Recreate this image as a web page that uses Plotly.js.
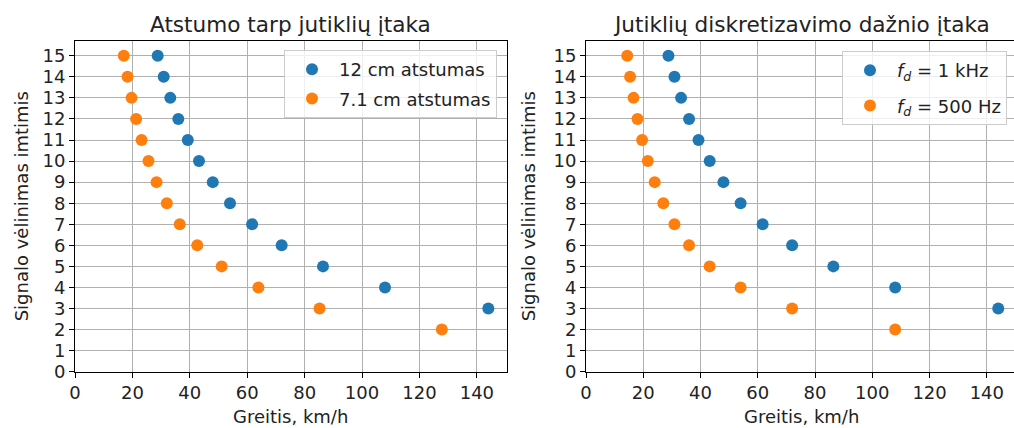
<!DOCTYPE html>
<html>
<head>
<meta charset="utf-8">
<script src="https://cdn.plot.ly/plotly-3.0.1.min.js"></script>
<style>
  html, body { margin: 0; padding: 0; background: #fff; }
  #chart { width: 1014px; height: 428px; }
</style>
</head>
<body>
<div id="chart"></div>
<script>
// ---- Data ----
// Left panel: Atstumo tarp jutiklių įtaka
const delay12 = [3, 4, 5, 6, 7, 8, 9, 10, 11, 12, 13, 14, 15];
const speed12 = [144, 108, 86.4, 72, 61.7, 54, 48, 43.2, 39.3, 36, 33.2, 30.9, 28.8];
const delay71 = [2, 3, 4, 5, 6, 7, 8, 9, 10, 11, 12, 13, 14, 15];
const speed71 = [127.8, 85.2, 63.9, 51.1, 42.6, 36.5, 32.0, 28.4, 25.6, 23.2, 21.3, 19.7, 18.3, 17.0];
// Right panel: Jutiklių diskretizavimo dažnio įtaka
const delay1k = [3, 4, 5, 6, 7, 8, 9, 10, 11, 12, 13, 14, 15];
const speed1k = [144, 108, 86.4, 72, 61.7, 54, 48, 43.2, 39.3, 36, 33.2, 30.9, 28.8];
const delay500 = [2, 3, 4, 5, 6, 7, 8, 9, 10, 11, 12, 13, 14, 15];
const speed500 = [108, 72, 54, 43.2, 36, 30.9, 27, 24, 21.6, 19.6, 18, 16.6, 15.4, 14.4];

const legendNames = ['12 cm atstumas', '7.1 cm atstumas',
  '<i>f</i><sub><i>d</i></sub> = 1 kHz', '<i>f</i><sub><i>d</i></sub> = 500 Hz'];
const xTickVals = [0, 20, 40, 60, 80, 100, 120, 140];
const yTickVals = [0, 1, 2, 3, 4, 5, 6, 7, 8, 9, 10, 11, 12, 13, 14, 15];

const titles = ['Atstumo tarp jutiklių įtaka', 'Jutiklių diskretizavimo dažnio įtaka'];
const xLabel = 'Greitis, km/h';
const yLabel = 'Signalo vėlinimas imtimis';

// ---- Styling ----
const BLUE = '#1f77b4', ORANGE = '#ff7f0e';
const FONT = 'DejaVu Sans, sans-serif';
const FS = 18, TFS = 21.6;
const W = 1014, H = 428;
const px = v => v / W;
const py = v => (H - v) / H;

const plotTop = 41, plotBottom = 371.7;
const L1 = 75, R1 = 506.7, L2 = 586, R2 = 1014;

const mk = (color) => ({ color: color, size: 12, line: { width: 0 } });

const traces = [
  { x: speed12, y: delay12, name: legendNames[0], type: 'scatter', mode: 'markers',
    marker: mk(BLUE), xaxis: 'x', yaxis: 'y', legend: 'legend', legendgroup: 'a' },
  { x: speed71, y: delay71, name: legendNames[1], type: 'scatter', mode: 'markers',
    marker: mk(ORANGE), xaxis: 'x', yaxis: 'y', legend: 'legend', legendgroup: 'b' },
  { x: speed1k, y: delay1k, name: legendNames[2], type: 'scatter', mode: 'markers',
    marker: mk(BLUE), xaxis: 'x2', yaxis: 'y2', legend: 'legend2', legendgroup: 'c' },
  { x: speed500, y: delay500, name: legendNames[3], type: 'scatter', mode: 'markers',
    marker: mk(ORANGE), xaxis: 'x2', yaxis: 'y2', legend: 'legend2', legendgroup: 'd' }
];

const axisCommon = {
  showline: true, linecolor: '#000', linewidth: 1,
  ticks: 'outside', ticklen: 5, tickwidth: 1, tickcolor: '#000',
  showgrid: true, gridcolor: '#b0b0b0', gridwidth: 1,
  zeroline: false, fixedrange: true,
  tickfont: { family: FONT, size: FS, color: '#222' }
};

const yDomain = [py(plotBottom), py(plotTop)];

const legendCommon = {
  bgcolor: 'rgba(255,255,255,0.8)', bordercolor: '#cccccc', borderwidth: 1,
  font: { family: FONT, size: FS, color: '#222' },
  traceorder: 'grouped', itemsizing: 'trace', itemwidth: 44
};

const layout = {
  width: W, height: H,
  margin: { l: 0, r: 0, t: 0, b: 0, pad: 0 },
  paper_bgcolor: '#fff', plot_bgcolor: '#fff',
  font: { family: FONT, size: FS, color: '#222' },
  showlegend: true,
  xaxis: Object.assign({}, axisCommon, { domain: [px(L1), px(R1)], range: [0, 150.4],
    tickmode: 'array', tickvals: xTickVals, anchor: 'y', mirror: true }),
  yaxis: Object.assign({}, axisCommon, { domain: yDomain, range: [0, 15.7],
    tickmode: 'array', tickvals: yTickVals, anchor: 'x', mirror: true }),
  xaxis2: Object.assign({}, axisCommon, { domain: [px(L2), px(R2)], range: [0, 149.5],
    tickmode: 'array', tickvals: xTickVals, anchor: 'y2', mirror: true }),
  yaxis2: Object.assign({}, axisCommon, { domain: yDomain, range: [0, 15.7],
    tickmode: 'array', tickvals: yTickVals, anchor: 'x2', mirror: false }),
  legend: Object.assign({}, legendCommon, {
    x: px(497), xanchor: 'right', y: py(50), yanchor: 'top', tracegroupgap: 3 }),
  legend2: Object.assign({}, legendCommon, {
    x: px(1007), xanchor: 'right', y: py(51), yanchor: 'top', tracegroupgap: 9 }),
  annotations: [
    { text: titles[0], x: px((L1 + R1) / 2), y: py(24), xref: 'paper', yref: 'paper',
      xanchor: 'center', yanchor: 'middle', showarrow: false,
      font: { family: FONT, size: TFS, color: '#222' } },
    { text: titles[1], x: px((L2 + 1016.7) / 2), y: py(24), xref: 'paper', yref: 'paper',
      xanchor: 'center', yanchor: 'middle', showarrow: false,
      font: { family: FONT, size: TFS, color: '#222' } },
    { text: xLabel, x: px((L1 + R1) / 2), y: py(416), xref: 'paper', yref: 'paper',
      xanchor: 'center', yanchor: 'middle', showarrow: false,
      font: { family: FONT, size: FS, color: '#222' } },
    { text: xLabel, x: px((L2 + 1016.7) / 2), y: py(416), xref: 'paper', yref: 'paper',
      xanchor: 'center', yanchor: 'middle', showarrow: false,
      font: { family: FONT, size: FS, color: '#222' } },
    { text: yLabel, x: px(21), y: py((plotTop + plotBottom) / 2), xref: 'paper', yref: 'paper',
      xanchor: 'center', yanchor: 'middle', showarrow: false, textangle: -90,
      font: { family: FONT, size: FS, color: '#222' } },
    { text: yLabel, x: px(528), y: py((plotTop + plotBottom) / 2), xref: 'paper', yref: 'paper',
      xanchor: 'center', yanchor: 'middle', showarrow: false, textangle: -90,
      font: { family: FONT, size: FS, color: '#222' } }
  ]
};

Plotly.newPlot('chart', traces, layout, { staticPlot: true, displayModeBar: false });
</script>
</body>
</html>
